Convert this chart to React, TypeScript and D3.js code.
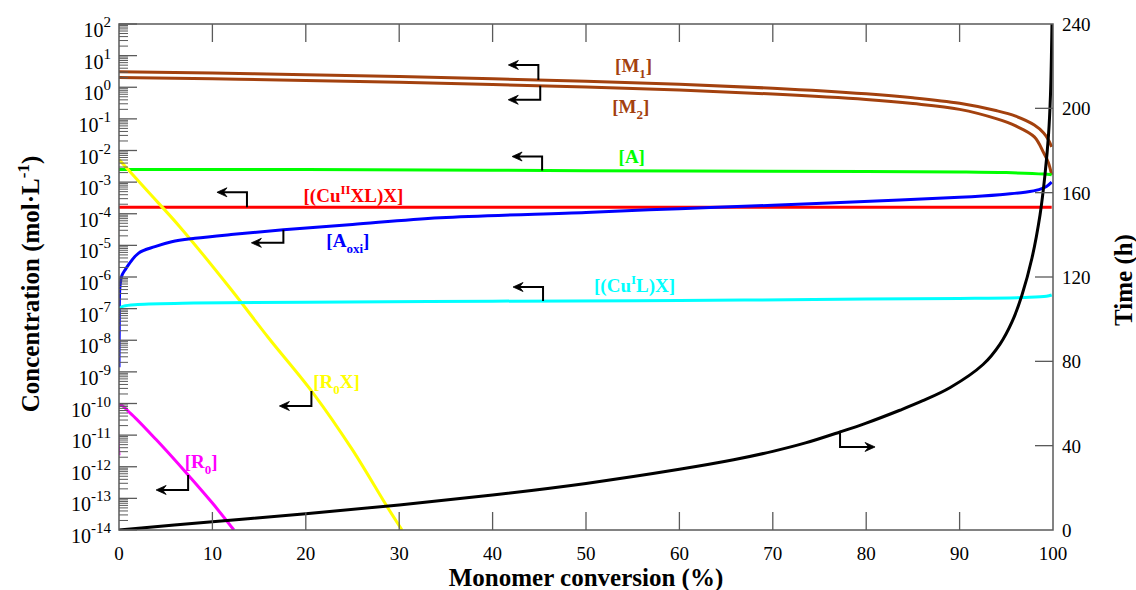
import React from 'react';
import * as d3 from 'd3';

const W = 1136;
const H = 590;
const PL = 119, PR = 1053, PT = 24, PB = 530;

// ---------- axis ticks ----------
const xTickValues = [0, 10, 20, 30, 40, 50, 60, 70, 80, 90, 100];
const yExponents = [2, 1, 0, -1, -2, -3, -4, -5, -6, -7, -8, -9, -10, -11, -12, -13, -14];
const timeTickValues = [0, 40, 80, 120, 160, 200, 240];

// ---------- data (conversion %, concentration mol/L) ----------
const m1Conv = [0, 10, 20, 30, 40, 50, 60, 70, 80, 85, 90, 94, 96, 98, 99, 99.5, 99.86];
const m1Conc = [3.1, 2.8, 2.5, 2.18, 1.86, 1.55, 1.24, 0.93, 0.62, 0.465, 0.31, 0.18, 0.122, 0.064, 0.036, 0.022, 0.013];

const m2Conv = [0, 10, 20, 30, 40, 50, 60, 70, 80, 85, 90, 94, 96, 98, 99, 99.5, 99.86];
const m2Conc = [2.05, 1.85, 1.64, 1.43, 1.22, 1.02, 0.82, 0.61, 0.41, 0.305, 0.2, 0.1, 0.06, 0.027, 0.0085, 0.0042, 0.0017];

const aConv = [0, 20, 50, 80, 90, 95, 99, 99.86];
const aConc = [0.0025, 0.0025, 0.0023, 0.00218, 0.0021, 0.002, 0.0018, 0.0017];

const cu2Conv = [0, 99.86];
const cu2Conc = [1.6e-4, 1.6e-4];

const aoxiConv = [0, 0.03, 0.1, 0.3, 0.64, 2.07, 3.85, 5.64, 8.14, 12, 17.6, 25, 34.4, 50, 60, 70, 83.6, 90, 94.3, 97, 98.5, 99.3, 99.86];
const aoxiConc = [1.4e-9, 3e-8, 4.9e-7, 1.1e-6, 1.66e-6, 5.6e-6, 9.1e-6, 1.3e-5, 1.67e-5, 2.2e-5, 3.1e-5, 4.6e-5, 7.5e-5, 1.1e-4, 1.45e-4, 1.85e-4, 2.7e-4, 3.3e-4, 4.0e-4, 4.8e-4, 5.8e-4, 7.3e-4, 1.0e-3];

const cu1Conv = [0, 0.5, 2, 8, 20, 40, 60, 80, 90, 97, 99.3, 99.86];
const cu1Conc = [1.0e-7, 1.2e-7, 1.35e-7, 1.5e-7, 1.6e-7, 1.72e-7, 1.8e-7, 2.0e-7, 2.1e-7, 2.25e-7, 2.45e-7, 2.7e-7];

const r0xConv = [0, 3, 6.5, 11.9, 16, 20.8, 25, 28.7, 30.3];
const r0xConc = [5.2e-3, 5.4e-4, 3.9e-5, 4.4e-7, 1.2e-8, 2.1e-10, 3.4e-12, 5.5e-14, 1e-14];

const r0Conv = [0, 0.05, 1.2, 4, 7.4, 10, 12.3];
const r0Conc = [2.3e-12, 9e-11, 5e-11, 7.1e-12, 5.5e-13, 7.1e-14, 1e-14];

const timeConv = [0, 10, 20, 30, 40, 50, 60, 65.8, 70, 73.5, 77.2, 80, 83.6, 86, 89, 92.51, 94.33, 95.61, 96.68, 97.75, 98.61, 99.14, 99.52, 99.73, 99.89];
const timeHours = [0, 3.9, 7.7, 11.9, 16.6, 22.1, 28.8, 33.3, 37.3, 41.3, 46.5, 50.7, 56.8, 61.2, 67.6, 78.5, 88.2, 98.7, 111.5, 129, 149.4, 168.4, 187.4, 206.3, 240];

const FONT = '"Liberation Serif", "Times New Roman", serif';
const BROWN = '#a3410e';

type Part = { t: string; sub?: boolean; sup?: boolean };

const x = d3.scaleLinear().domain([0, 100]).range([PL, PR]);
const y = d3.scaleLog().domain([1e-14, 1e2]).range([PB, PT]);
const yT = d3.scaleLinear().domain([0, 240]).range([PB, PT]);

const zip = (a: number[], b: number[]) => a.map((v, i) => [v, b[i]] as [number, number]);

const concLine = d3.line<[number, number]>().x(d => x(d[0])).y(d => y(d[1])).curve(d3.curveCatmullRom.alpha(0.5));
const timeLine = d3.line<[number, number]>().x(d => x(d[0])).y(d => yT(d[1])).curve(d3.curveCatmullRom.alpha(0.5));

const interp = (xs: number[], ys: number[], xv: number, log: boolean) => {
  for (let i = 0; i < xs.length - 1; i++) {
    if (xv >= xs[i] && xv <= xs[i + 1]) {
      const t = (xv - xs[i]) / (xs[i + 1] - xs[i]);
      if (log) return Math.pow(10, Math.log10(ys[i]) + t * (Math.log10(ys[i + 1]) - Math.log10(ys[i])));
      return ys[i] + t * (ys[i + 1] - ys[i]);
    }
  }
  return ys[ys.length - 1];
};

const series = [
  { key: 'M1', xs: m1Conv, ys: m1Conc, color: BROWN },
  { key: 'M2', xs: m2Conv, ys: m2Conc, color: BROWN },
  { key: 'A', xs: aConv, ys: aConc, color: '#00ff00' },
  { key: 'Cu2', xs: cu2Conv, ys: cu2Conc, color: '#ff0000' },
  { key: 'R0X', xs: r0xConv, ys: r0xConc, color: '#ffff00' },
  { key: 'Aoxi', xs: aoxiConv, ys: aoxiConc, color: '#0000ff' },
  { key: 'Cu1', xs: cu1Conv, ys: cu1Conc, color: '#00ffff' },
  { key: 'R0', xs: r0Conv, ys: r0Conc, color: '#ff00ff' },
];

// labels: x in conversion %, y as log10 concentration (baseline)
const labels: { parts: Part[]; color: string; cx: number; ly: number }[] = [
  { parts: [{ t: '[M' }, { t: '1', sub: true }, { t: ']' }], color: BROWN, cx: 55.1, ly: 0.49 },
  { parts: [{ t: '[M' }, { t: '2', sub: true }, { t: ']' }], color: BROWN, cx: 54.8, ly: -0.82 },
  { parts: [{ t: '[A]' }], color: '#00ff00', cx: 54.9, ly: -2.39 },
  { parts: [{ t: '[(Cu' }, { t: 'II', sup: true }, { t: 'XL)X]' }], color: '#ff0000', cx: 25.1, ly: -3.62 },
  { parts: [{ t: '[A' }, { t: 'oxi', sub: true }, { t: ']' }], color: '#0000ff', cx: 24.5, ly: -5.04 },
  { parts: [{ t: '[(Cu' }, { t: 'I', sup: true }, { t: 'L)X]' }], color: '#00ffff', cx: 55.2, ly: -6.46 },
  { parts: [{ t: '[R' }, { t: '0', sub: true }, { t: 'X]' }], color: '#ffff00', cx: 23.3, ly: -9.52 },
  { parts: [{ t: '[R' }, { t: '0', sub: true }, { t: ']' }], color: '#ff00ff', cx: 8.8, ly: -12.04 },
];

// arrows: anchor on curve at conversion ax, stem dy px (neg = up), horizontal len px, dir
const arrows = [
  { key: 'M1', ax: 44.9, dy: -15, len: 30, dir: -1 },
  { key: 'M2', ax: 45.1, dy: 14, len: 32, dir: -1 },
  { key: 'A', ax: 45.3, dy: -14, len: 30, dir: -1 },
  { key: 'Cu2', ax: 13.7, dy: -15, len: 30, dir: -1 },
  { key: 'Aoxi', ax: 17.6, dy: 13, len: 32, dir: -1 },
  { key: 'Cu1', ax: 45.4, dy: -14, len: 30, dir: -1 },
  { key: 'R0X', ax: 20.6, dy: 15, len: 32, dir: -1 },
  { key: 'R0', ax: 7.4, dy: 15, len: 32, dir: -1 },
  { key: 'time', ax: 77.2, dy: 15, len: 35, dir: 1 },
];

function renderParts(parts: Part[], size: number, subSize: number, subDy: number, supDy: number) {
  let off = 0;
  return parts.map((p, i) => {
    let target = 0;
    if (p.sub) target = subDy;
    else if (p.sup) target = -supDy;
    const dy = target - off;
    off = target;
    return (
      <tspan key={i} dy={dy} fontSize={p.sub || p.sup ? subSize : size}>
        {p.t}
      </tspan>
    );
  });
}

export default function App() {
  const minorTicks: number[] = [];
  for (let e = -14; e < 2; e++) for (let k = 2; k <= 9; k++) minorTicks.push(k * Math.pow(10, e));

  const anchorY = (key: string, ax: number) => {
    if (key === 'time') return yT(interp(timeConv, timeHours, ax, false));
    const s = series.find(s => s.key === key)!;
    return y(interp(s.xs, s.ys, ax, true));
  };

  const axisColor = '#5a5a5a';
  const tStyle = { fontFamily: FONT };

  return (
    <svg width={W} height={H} style={{ position: 'absolute', left: 0, top: 0, background: '#fff', fontFamily: FONT }}>
      <defs>
        <clipPath id="plot">
          <rect x={PL} y={PT} width={PR - PL} height={PB - PT} />
        </clipPath>
      </defs>
      <rect x={0} y={0} width={W} height={H} fill="#fff" />

      {/* curves */}
      <g clipPath="url(#plot)" fill="none">
        {series.map(s => (
          <path key={s.key} d={concLine(zip(s.xs, s.ys)) || ''} stroke={s.color} strokeWidth={3} />
        ))}
        <path d={timeLine(zip(timeConv, timeHours)) || ''} stroke="#000" strokeWidth={3} />
      </g>

      {/* frame */}
      <rect x={PL} y={PT} width={PR - PL} height={PB - PT} fill="none" stroke={axisColor} strokeWidth={1.5} />

      {/* x ticks */}
      {xTickValues.map(v => (
        <g key={'x' + v}>
          {v > 0 && v < 100 && (
            <>
              <line x1={x(v)} x2={x(v)} y1={PB} y2={PB - 18} stroke={axisColor} strokeWidth={1.3} />
              <line x1={x(v)} x2={x(v)} y1={PT} y2={PT + 18} stroke={axisColor} strokeWidth={1.3} />
            </>
          )}
          <text x={x(v)} y={PB + 30} textAnchor="middle" fontSize={19} fill="#000" style={tStyle}>
            {v}
          </text>
        </g>
      ))}

      {/* left log ticks */}
      {minorTicks.map((v, i) => (
        <line key={'m' + i} x1={PL} x2={PL + 9} y1={y(v)} y2={y(v)} stroke={axisColor} strokeWidth={1} />
      ))}
      {yExponents.map(e => (
        <g key={'y' + e}>
          <line x1={PL} x2={PL + 18} y1={y(Math.pow(10, e))} y2={y(Math.pow(10, e))} stroke={axisColor} strokeWidth={1.3} />
          <text x={111} y={y(Math.pow(10, e)) + 13} textAnchor="end" fontSize={20} fill="#000" style={tStyle}>
            <tspan>10</tspan>
            <tspan dy={-10} fontSize={15}>{e < 0 ? '-' + Math.abs(e) : String(e)}</tspan>
          </text>
        </g>
      ))}

      {/* right time ticks */}
      {timeTickValues.map(v => (
        <g key={'t' + v}>
          {v > 0 && v < 240 && (
            <line x1={PR} x2={PR - 18} y1={yT(v)} y2={yT(v)} stroke={axisColor} strokeWidth={1.3} />
          )}
          <text x={PR + 9} y={yT(v) + 7} textAnchor="start" fontSize={19} fill="#000" style={tStyle}>
            {v}
          </text>
        </g>
      ))}

      {/* arrows */}
      {arrows.map((a, i) => {
        const ax = x(a.ax);
        const ay = anchorY(a.key, a.ax);
        const ey = ay + a.dy;
        const tip = ax + a.dir * a.len;
        const d = a.dir;
        const head = `M${tip},${ey} L${tip - d * 10},${ey - 4.5} L${tip - d * 6.5},${ey} L${tip - d * 10},${ey + 4.5} Z`;
        return (
          <g key={'a' + i}>
            <path d={`M${ax},${ay} L${ax},${ey} L${tip - d * 6},${ey}`} fill="none" stroke="#000" strokeWidth={2} />
            <path d={head} fill="#000" stroke="#000" strokeWidth={0.8} strokeLinejoin="miter" />
          </g>
        );
      })}

      {/* labels */}
      {labels.map((l, i) => (
        <text
          key={'l' + i}
          x={x(l.cx)}
          y={y(Math.pow(10, l.ly))}
          textAnchor="middle"
          fontWeight="bold"
          fontSize={19}
          fill={l.color}
          style={tStyle}
        >
          {renderParts(l.parts, 19, 13, 6, 8)}
        </text>
      ))}

      {/* axis titles */}
      <text
        transform={`translate(39,284) rotate(-90)`}
        textAnchor="middle"
        fontWeight="bold"
        fontSize={25}
        fill="#000"
        style={tStyle}
      >
        <tspan>Concentration (mol·L</tspan>
        <tspan dy={-10} fontSize={17}>-1</tspan>
        <tspan dy={10}>)</tspan>
      </text>
      <text
        transform={`translate(1132,280) rotate(-90)`}
        textAnchor="middle"
        fontWeight="bold"
        fontSize={25}
        fill="#000"
        style={tStyle}
      >
        Time (h)
      </text>
      <text x={586} y={586} textAnchor="middle" fontWeight="bold" fontSize={25} fill="#000" style={tStyle}>
        Monomer conversion (%)
      </text>
    </svg>
  );
}
